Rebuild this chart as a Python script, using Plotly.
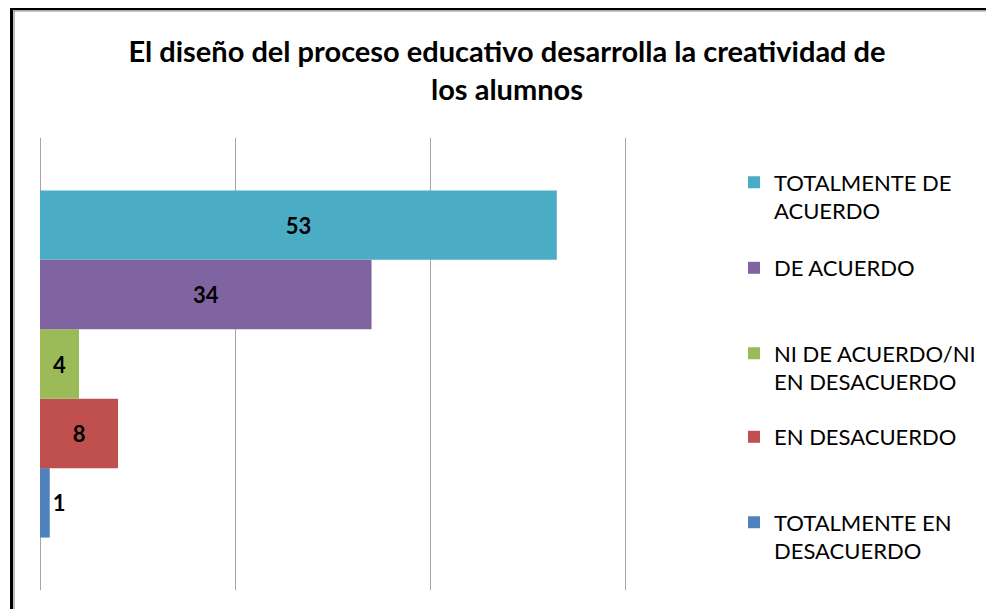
import plotly.graph_objects as go

# Data (top-to-bottom order in reference)
categories = ["TOTALMENTE DE<br>ACUERDO", "DE ACUERDO", "NI DE ACUERDO/NI<br>EN DESACUERDO",
              "EN DESACUERDO", "TOTALMENTE EN<br>DESACUERDO"]
values = [53, 34, 4, 8, 1]
colors = ["#4BACC6", "#8064A2", "#9BBB59", "#C0504D", "#4F81BD"]
x_ticks = [0, 20, 40, 60]

title_text = "El diseño del proceso educativo desarrolla la creatividad de<br>los alumnos"

FONT = "Lato"
OFF = 8  # page body margin
W, H = 994 - OFF, 609 - OFF
L, R, T, B = 40 - OFF, 994 - 627, 138 - OFF, 19
PH = H - T - B
PW = W - L - R

# legend centre pixel rows (page coords)
legend_centers = [197, 268, 368, 437, 537]


def px_x(p):
    return (p - OFF - L) / PW


def px_y(p):
    return 1 - (p - OFF - T) / PH


fig = go.Figure()
legend_names = ["legend", "legend2", "legend3", "legend4", "legend5"]
# Plotly stacks grouped horizontal bars bottom-up, so add in reverse
for i in reversed(range(len(values))):
    v = values[i]
    fig.add_trace(go.Bar(
        x=[v], y=[0], orientation="h", name=categories[i],
        marker=dict(color=colors[i], line=dict(width=0)),
        text=[str(v)], textposition="outside" if v < 2 else "inside",
        insidetextanchor="middle",
        textfont=dict(family=FONT, size=22, color="black", weight="bold"),
        legend=legend_names[i], hoverinfo="skip", cliponaxis=False,
    ))

layout_legends = {}
for i, name in enumerate(legend_names):
    layout_legends[name] = dict(
        x=px_x(734), xanchor="left",
        y=px_y(legend_centers[i]), yanchor="middle",
        font=dict(family=FONT, size=22, color="#000000"),
        bgcolor="rgba(0,0,0,0)", itemwidth=30, valign="top",
        itemclick=False, itemdoubleclick=False,
    )

fig.update_layout(
    width=W, height=H,
    margin=dict(l=L, r=R, t=T, b=B),
    paper_bgcolor="white", plot_bgcolor="white",
    barmode="group", bargap=0.232,
    title=dict(text=title_text, x=(507 - OFF) / W, xanchor="center", xref="container",
               y=1 - (62 - OFF) / H, yanchor="middle", yref="container",
               font=dict(family=FONT, size=29, color="black", weight="bold")),
    xaxis=dict(range=[0, 60.2], tickvals=x_ticks, showticklabels=False,
               showgrid=True, gridcolor="#A6A6A6", gridwidth=1.3,
               zeroline=True, zerolinecolor="#A6A6A6", zerolinewidth=1.3,
               showline=False, fixedrange=True),
    yaxis=dict(range=[-0.5, 0.5], showticklabels=False, showgrid=False,
               zeroline=False, showline=False, fixedrange=True),
    showlegend=True,
    shapes=[
        dict(type="rect", xref="paper", yref="paper",
             x0=px_x(11.5), x1=px_x(1200), y0=px_y(700), y1=px_y(8.7),
             line=dict(color="black", width=3), fillcolor="rgba(0,0,0,0)", layer="above"),
        dict(type="rect", xref="paper", yref="paper",
             x0=px_x(14), x1=px_x(1200), y0=px_y(700), y1=px_y(11),
             line=dict(color="#909090", width=1.2), fillcolor="rgba(0,0,0,0)", layer="above"),
    ],
    **layout_legends,
)

fig.write_html("out.html")
